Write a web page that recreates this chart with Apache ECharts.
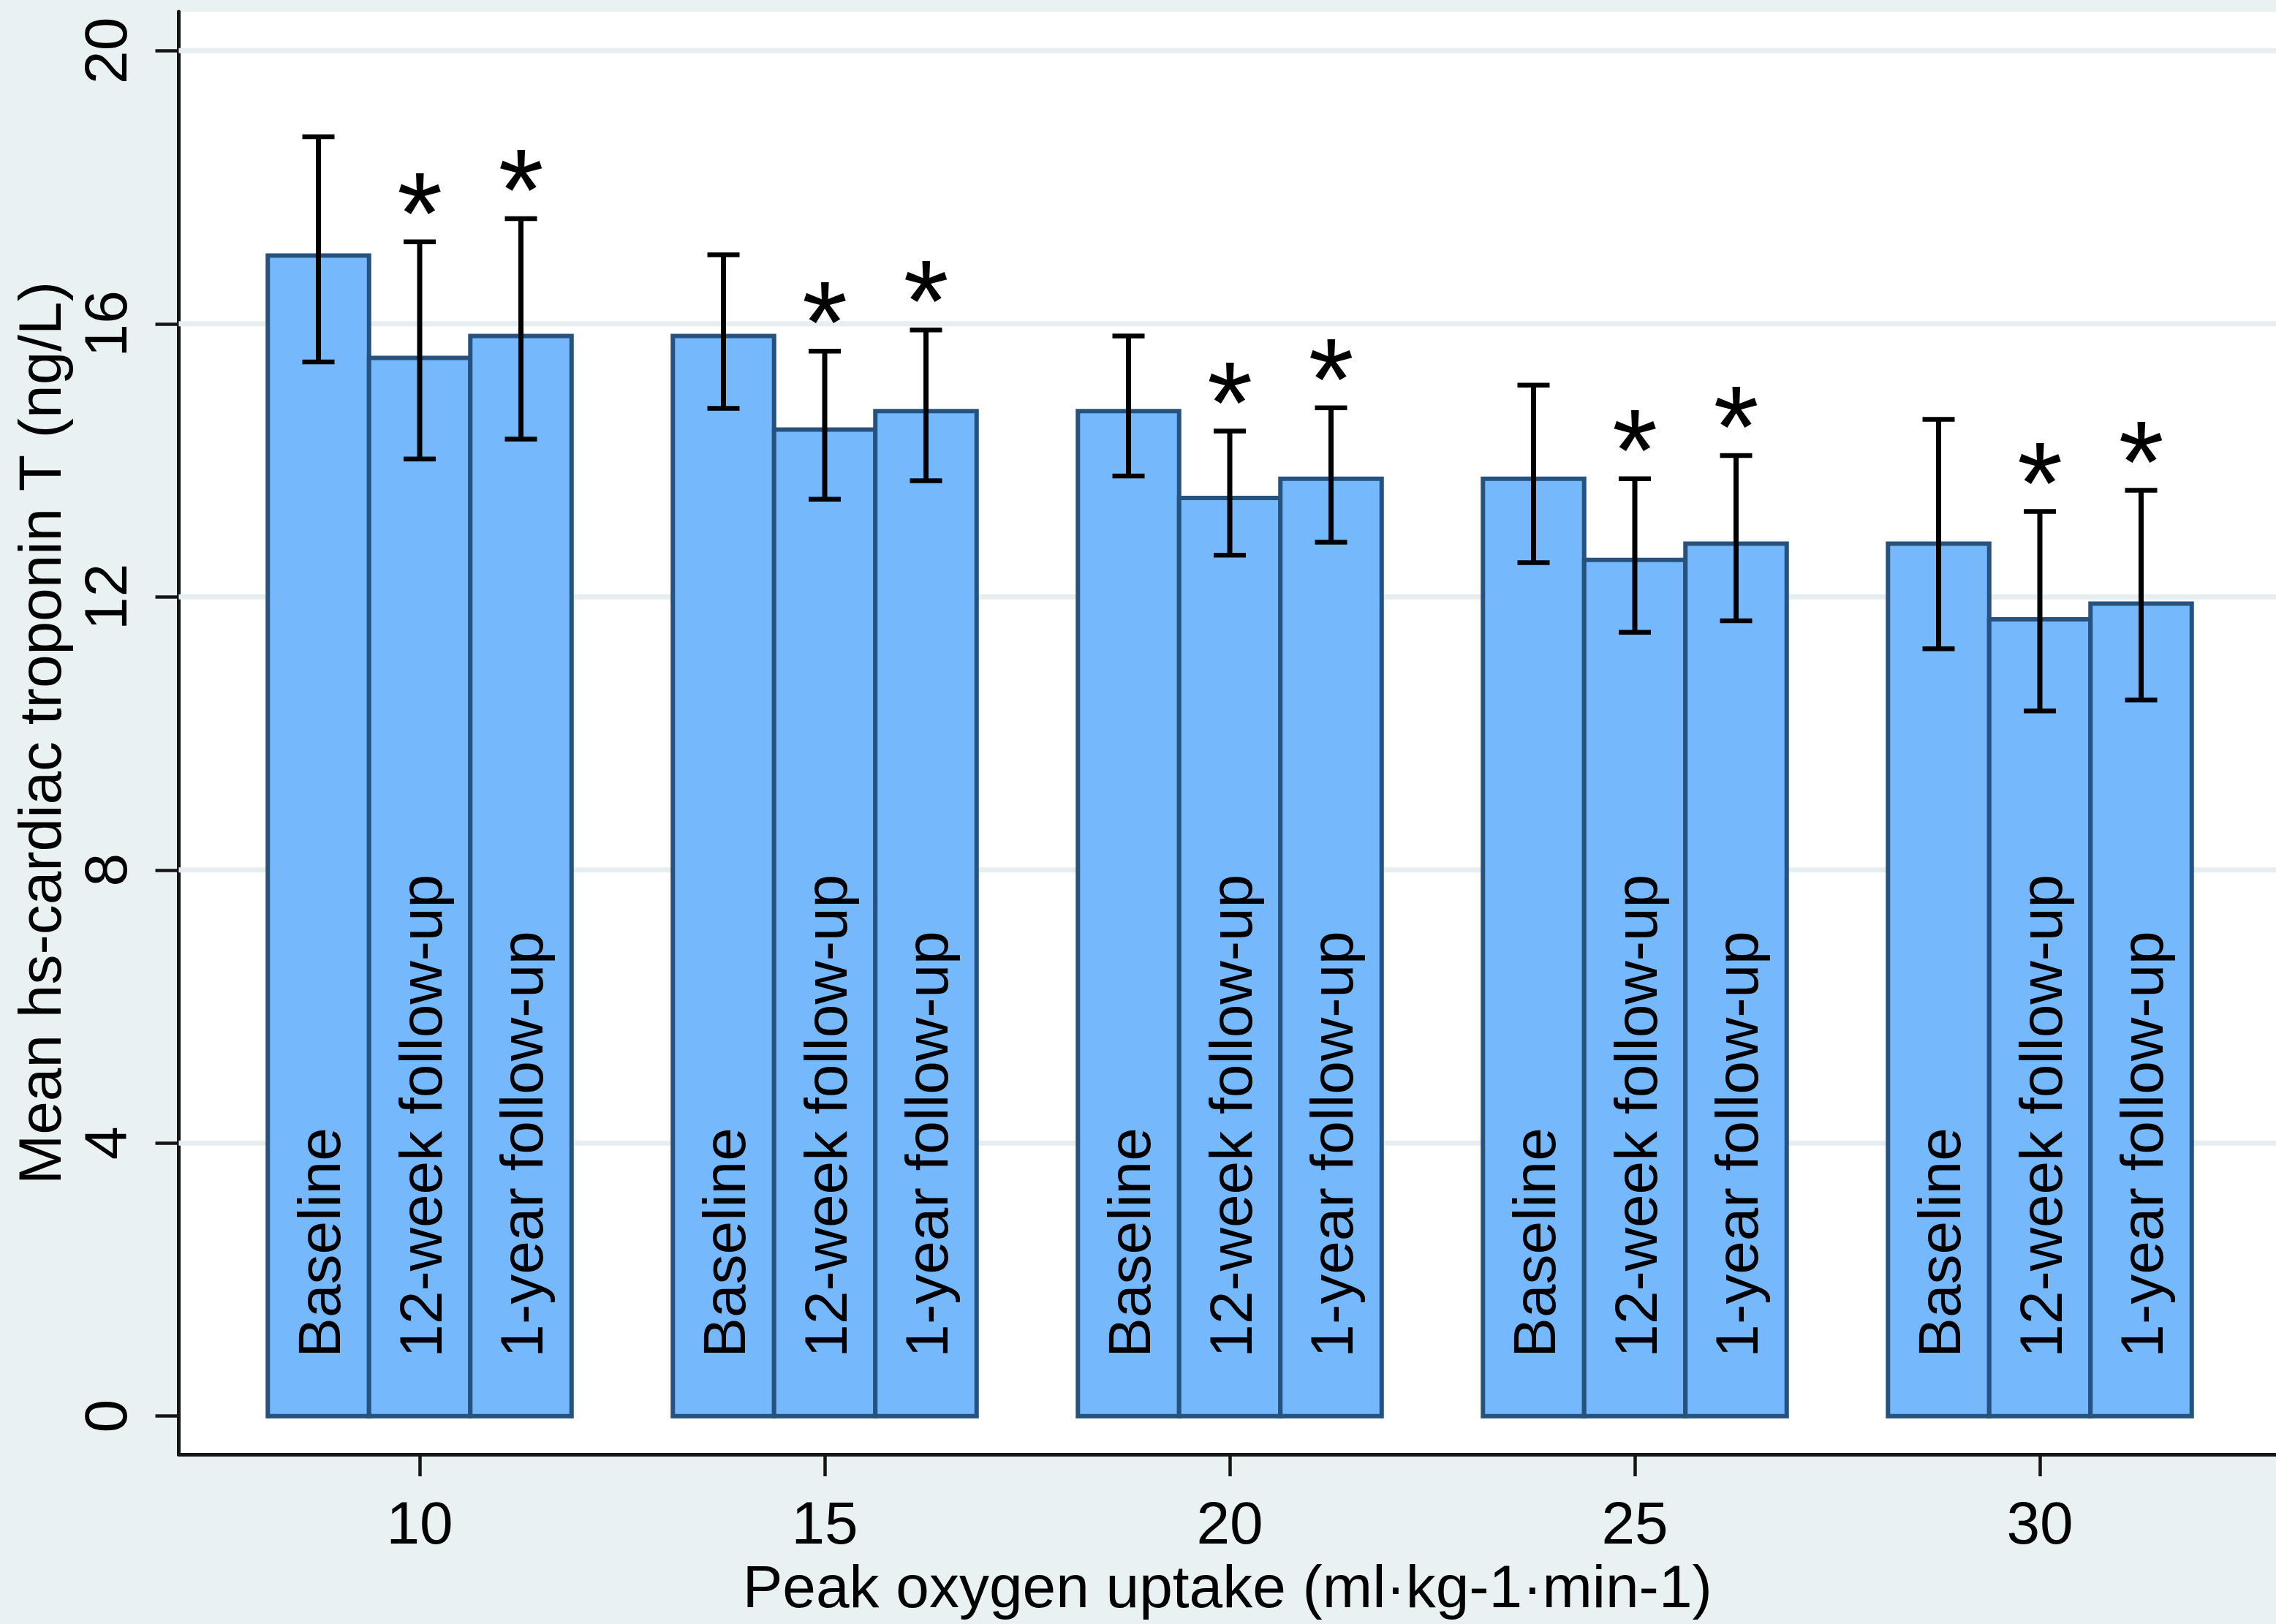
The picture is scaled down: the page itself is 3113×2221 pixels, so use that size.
<!DOCTYPE html>
<html>
<head>
<meta charset="utf-8">
<script src="https://cdn.jsdelivr.net/npm/echarts@6/dist/echarts.min.js"></script>
<style>
  html, body { margin: 0; padding: 0; background: #e9f1f3; }
  #chart { width: 3113px; height: 2221px; }
</style>
</head>
<body>
<div id="chart"></div>
<script>
// Peak oxygen uptake groups (x positions of the bar clusters)
const peakVO2 = [10, 15, 20, 25, 30];
const timepoints = ['Baseline', '12-week follow-up', '1-year follow-up'];

// Mean hs-cardiac troponin T (ng/L) with 95% confidence limits
const baselineMean = [17.00, 15.82, 14.72, 13.73, 12.78];
const baselineLow  = [15.44, 14.76, 13.77, 12.50, 11.24];
const baselineHigh = [18.74, 17.01, 15.82, 15.10, 14.60];

const week12Mean = [15.50, 14.45, 13.45, 12.54, 11.67];
const week12Low  = [14.02, 13.43, 12.61, 11.48, 10.33];
const week12High = [17.20, 15.60, 14.43, 13.73, 13.25];

const year1Mean = [15.82, 14.72, 13.73, 12.78, 11.90];
const year1Low  = [14.31, 13.70, 12.80, 11.65, 10.49];
const year1High = [17.54, 15.91, 14.77, 14.07, 13.56];

// Change from baseline marked as significant (*)
const significant = [false, true, true];

const yTicks = [0, 4, 8, 12, 16, 20];
const xTicks = [10, 15, 20, 25, 30];

// ---- drawing ----
const means = [baselineMean, week12Mean, year1Mean];
const lows = [baselineLow, week12Low, year1Low];
const highs = [baselineHigh, week12High, year1High];

const BAR_W = 1.25;                 // bar width in x-axis units
const OFFSETS = [-1.25, 0, 1.25];   // bar centre relative to group value
const FONT = '"Liberation Sans", Arial, sans-serif';
const BAR_FILL = '#75b8fc';
const BAR_EDGE = '#26527f';

const chart = echarts.init(document.getElementById('chart'), null, { renderer: 'canvas' });

function barRenderer(k) {
  return function (params, api) {
    const x = api.value(0) + OFFSETS[k];
    const m = api.value(1);
    const tl = api.coord([x - BAR_W / 2, m]);
    const br = api.coord([x + BAR_W / 2, 0]);
    const base = api.coord([x, 0]);
    return {
      type: 'group',
      children: [
        {
          type: 'rect',
          shape: { x: tl[0], y: tl[1], width: br[0] - tl[0], height: br[1] - tl[1] },
          style: { fill: BAR_FILL, stroke: BAR_EDGE, lineWidth: 6 }
        },
        {
          type: 'text',
          x: base[0] + 7,
          y: base[1] - 80,
          rotation: Math.PI / 2,
          style: {
            text: timepoints[k], fill: '#000', fontSize: 82, fontFamily: FONT,
            align: 'left', verticalAlign: 'middle'
          }
        }
      ]
    };
  };
}

function errorRenderer(k) {
  return function (params, api) {
    const x = api.value(0) + OFFSETS[k];
    const top = api.coord([x, api.value(3)]);
    const bot = api.coord([x, api.value(2)]);
    const capHalf = 22;
    const children = [
      { type: 'line', shape: { x1: top[0], y1: top[1], x2: bot[0], y2: bot[1] },
        style: { stroke: '#000', lineWidth: 7 } },
      { type: 'line', shape: { x1: top[0] - capHalf, y1: top[1], x2: top[0] + capHalf, y2: top[1] },
        style: { stroke: '#000', lineWidth: 6.5 } },
      { type: 'line', shape: { x1: bot[0] - capHalf, y1: bot[1], x2: bot[0] + capHalf, y2: bot[1] },
        style: { stroke: '#000', lineWidth: 6.5 } }
    ];
    if (significant[k]) {
      children.push({
        type: 'text', x: top[0], y: top[1] - 28,
        style: { text: '*', fill: '#000', fontSize: 160, fontFamily: FONT,
                 align: 'center', verticalAlign: 'middle' }
      });
    }
    return { type: 'group', children: children };
  };
}

function gridRenderer(params, api) {
  const cs = params.coordSys;
  const y = api.coord([peakVO2[0], api.value(0)])[1];
  return {
    type: 'line',
    shape: { x1: cs.x, y1: y, x2: cs.x + cs.width, y2: y },
    style: { stroke: '#e6eef1', lineWidth: 7 }
  };
}

const series = [];
series.push({
  type: 'custom', name: 'grid', z: 1, silent: true,
  data: yTicks.filter(v => v > 0).map(v => [v]),
  encode: { y: 0 },
  renderItem: gridRenderer
});
timepoints.forEach((t, k) => {
  const data = peakVO2.map((g, i) => [g, means[k][i], lows[k][i], highs[k][i]]);
  series.push({
    type: 'custom', name: t, z: 2, silent: true,
    data: data, encode: { x: 0, y: 1 },
    renderItem: barRenderer(k)
  });
  series.push({
    type: 'custom', name: t + ' CI', z: 3, silent: true,
    data: data, encode: { x: 0, y: [2, 3] },
    renderItem: errorRenderer(k)
  });
});

chart.setOption({
  animation: false,
  backgroundColor: '#e9f1f3',
  textStyle: { fontFamily: FONT },
  grid: {
    left: 244.5, right: 0, top: 16, bottom: 226.5,
    show: true, backgroundColor: '#ffffff', borderWidth: 0
  },
  xAxis: {
    type: 'value',
    min: 7.026, max: 32.915,
    name: 'Peak oxygen uptake (ml·kg-1·min-1)',
    nameLocation: 'middle', nameGap: 136,
    nameTextStyle: { fontSize: 82, color: '#000', fontFamily: FONT },
    axisLine: { show: true, onZero: false, lineStyle: { color: '#151515', width: 5 } },
    axisTick: { show: true, length: 30, customValues: xTicks, lineStyle: { color: '#151515', width: 4.5 } },
    axisLabel: { customValues: xTicks, fontSize: 82, color: '#000', margin: 58, fontFamily: FONT },
    splitLine: { show: false }
  },
  yAxis: {
    type: 'value',
    min: -0.561, max: 20.571,
    name: 'Mean hs-cardiac troponin T (ng/L)',
    nameLocation: 'middle', nameGap: 143, nameRotate: 90, nameMoveOverlap: false,
    nameTextStyle: { fontSize: 82, color: '#000', fontFamily: FONT },
    axisLine: { show: true, onZero: false, lineStyle: { color: '#151515', width: 5 } },
    axisTick: { show: true, length: 32, customValues: yTicks, lineStyle: { color: '#151515', width: 4.5 } },
    axisLabel: { customValues: yTicks, rotate: 90, fontSize: 82, color: '#000', margin: 53, fontFamily: FONT },
    splitLine: { show: false }
  },
  series: series
});
</script>
</body>
</html>
